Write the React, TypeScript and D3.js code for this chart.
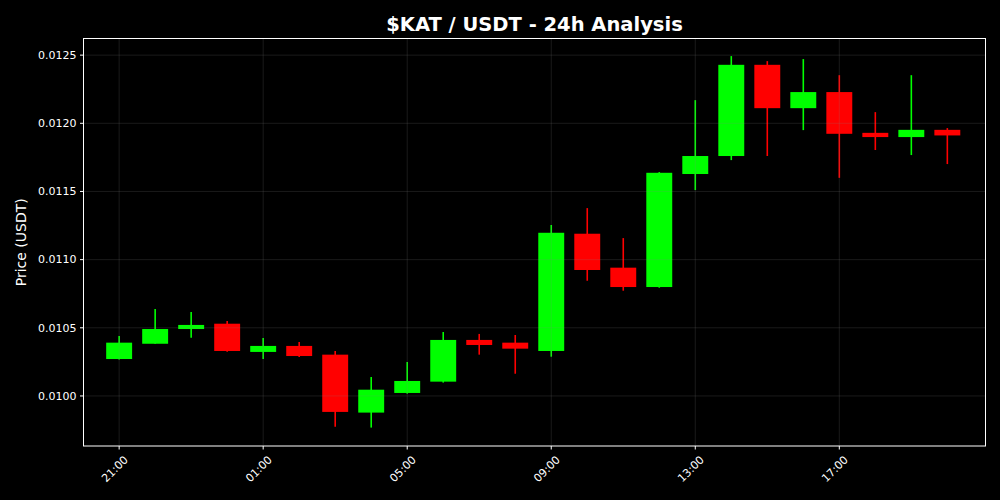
import React from "react";
import * as d3 from "d3";

const hoursFromStart = [0,1,2,3,4,5,6,7,8,9,10,11,12,13,14,15,16,17,18,19,20,21,22,23];
const openVals = [0.010271,0.010383,0.010491,0.010530,0.010323,0.010367,0.010303,0.009878,0.010022,0.010105,0.010411,0.010391,0.010330,0.011190,0.010941,0.010799,0.011628,0.011760,0.012429,0.012111,0.012229,0.011930,0.011899,0.011952];
const highVals = [0.010440,0.010638,0.010616,0.010550,0.010425,0.010396,0.010330,0.010139,0.010249,0.010469,0.010455,0.010447,0.011254,0.011378,0.011158,0.011642,0.012170,0.012493,0.012456,0.012471,0.012353,0.012082,0.012353,0.011965];
const lowVals = [0.010268,0.010383,0.010427,0.010325,0.010271,0.010286,0.009775,0.009768,0.010017,0.010098,0.010303,0.010163,0.010288,0.010845,0.010772,0.010794,0.011510,0.011730,0.011760,0.011950,0.011600,0.011804,0.011767,0.011701];
const closeVals = [0.010391,0.010491,0.010521,0.010330,0.010367,0.010293,0.009883,0.010046,0.010110,0.010411,0.010374,0.010347,0.011197,0.010924,0.010799,0.011637,0.011760,0.012429,0.012111,0.012229,0.011923,0.011899,0.011952,0.011911];
const yTicks = [0.0100,0.0105,0.0110,0.0115,0.0120,0.0125];
const xTickHours = [0,4,8,12,16,20];

const START = Date.UTC(2024, 0, 1, 21, 0, 0);
const H = 3600 * 1000;

export default function App() {
  const W = 1000, HGT = 500;
  const left = 83.5, right = 985.5, top = 38.5, bottom = 446;
  const x = d3.scaleUtc()
    .domain([new Date(START - 0.99 * H), new Date(START + 24.06 * H)])
    .range([left, right]);
  const y = d3.scaleLinear().domain([0.009633, 0.012622]).range([bottom, top]);
  const fmt = d3.utcFormat("%H:%M");
  const candleW = x(new Date(START + 0.72 * H)) - x(new Date(START));
  const font = "'DejaVu Sans', sans-serif";
  const gridColor = "rgba(128,128,128,0.2)";

  return (
    <svg width={W} height={HGT} style={{ position: "absolute", left: 0, top: 0, background: "#000" }}>
      <rect x={0} y={0} width={W} height={HGT} fill="#000" />
      {hoursFromStart.map((h, i) => {
        const cx = x(new Date(START + h * H));
        const up = closeVals[i] >= openVals[i];
        const col = up ? "#00ff00" : "#ff0000";
        const bt = y(Math.max(openVals[i], closeVals[i]));
        const bb = y(Math.min(openVals[i], closeVals[i]));
        return (
          <g key={i}>
            <line x1={cx} x2={cx} y1={y(highVals[i])} y2={y(lowVals[i])} stroke={col} strokeWidth={1.6} />
            <rect x={cx - candleW / 2} y={bt} width={candleW} height={Math.max(bb - bt, 1)} fill={col} />
          </g>
        );
      })}
      {yTicks.map((t) => (
        <line key={"gy" + t} x1={left} x2={right} y1={y(t)} y2={y(t)} stroke={gridColor} strokeWidth={1} />
      ))}
      {xTickHours.map((h) => {
        const xx = x(new Date(START + h * H));
        return <line key={"gx" + h} x1={xx} x2={xx} y1={top} y2={bottom} stroke={gridColor} strokeWidth={1} />;
      })}
      <rect x={left} y={top} width={right - left} height={bottom - top} fill="none" stroke="#fff" strokeWidth={1} />
      {yTicks.map((t) => (
        <g key={"ty" + t}>
          <line x1={left - 3.5} x2={left} y1={y(t)} y2={y(t)} stroke="#fff" strokeWidth={1} />
          <text x={left - 7} y={y(t)} dy="0.35em" textAnchor="end" fill="#fff" fontSize={11} fontFamily={font}>
            {t.toFixed(4)}
          </text>
        </g>
      ))}
      {xTickHours.map((h) => {
        const xx = x(new Date(START + h * H));
        return (
          <g key={"tx" + h}>
            <line x1={xx} x2={xx} y1={bottom} y2={bottom + 3.5} stroke="#fff" strokeWidth={1} />
            <text
              transform={`translate(${xx + 4},${bottom + 9}) rotate(-45)`}
              textAnchor="end"
              dy="0.7em"
              fill="#fff"
              fontSize={11}
              fontFamily={font}
            >
              {fmt(new Date(START + h * H))}
            </text>
          </g>
        );
      })}
      <text
        transform={`translate(26,${(top + bottom) / 2}) rotate(-90)`}
        textAnchor="middle"
        fill="#fff"
        fontSize={14}
        fontFamily={font}
      >
        Price (USDT)
      </text>
      <text x={(left + right) / 2} y={31} textAnchor="middle" fill="#fff" fontSize={19.5} fontWeight="bold" fontFamily={font}>
        $KAT / USDT - 24h Analysis
      </text>
    </svg>
  );
}
